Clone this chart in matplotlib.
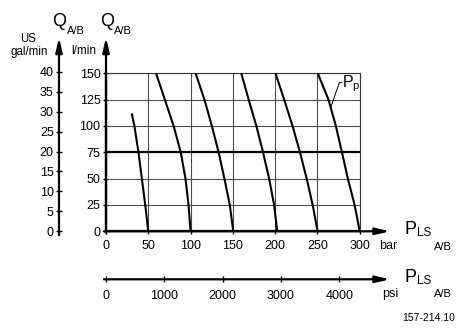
import matplotlib
matplotlib.use("Agg")
import matplotlib.pyplot as plt
import numpy as np

plt.rcParams['font.family'] = ['Liberation Sans', 'DejaVu Sans']

# ---- data ----
q_levels = [150, 125, 100, 75, 50, 25, 0]
curve1_bar = [30.4, 33.6, 38.4, 42.4, 46.4, 50.0]
curve1_q = [112, 100, 75, 50, 25, 0]
curve2_bar = [59.2, 69.6, 80.0, 88.4, 94.0, 97.6, 100.0]
curve3_bar = [106.0, 116.4, 125.2, 133.2, 140.0, 146.4, 150.5]
curve4_bar = [160.0, 168.7, 177.8, 185.7, 192.9, 198.8, 202.5]
curve5_bar = [200.4, 210.7, 220.6, 229.4, 237.3, 244.4, 250.2]
curve6_bar = [250.4, 263.1, 271.8, 279.0, 286.0, 294.0, 300.0]

bar_ticks = [0, 50, 100, 150, 200, 250, 300]
lmin_ticks = [0, 25, 50, 75, 100, 125, 150]
gal_ticks = [0, 5, 10, 15, 20, 25, 30, 35, 40]
psi_ticks = [0, 1000, 2000, 3000, 4000]

LPM_PER_GAL = 3.785
PSI_PER_BAR = 14.5038

W, H = 457, 328
fig = plt.figure(figsize=(W / 100, H / 100), dpi=100)

def fx(px):
    return px / W

def fy(py):
    return 1 - py / H

TICK_FS = 9

# main axes: x 0..300 -> px 106..359.7 ; y 0..150 -> py 231.3..73.3
x0, x1 = 106.0, 359.7
y0, y1 = 231.3, 73.3
ax = fig.add_axes([fx(x0), fy(y0), fx(x1) - fx(x0), (y0 - y1) / H])
ax.set_xlim(0, 300)
ax.set_ylim(0, 150)

ax.set_xticks(bar_ticks)
ax.set_yticks(lmin_ticks)
ax.grid(True, color='#4d4d4d', lw=0.8)
ax.set_axisbelow(True)
ax.axhline(75, color='black', lw=1.6, zorder=2)

for s in ['top', 'right']:
    ax.spines[s].set_linewidth(0.8)
    ax.spines[s].set_color('#333333')
for s in ['left', 'bottom']:
    ax.spines[s].set_linewidth(1.6)
    ax.spines[s].set_zorder(4)

ax.tick_params(axis='both', labelsize=TICK_FS, width=1.0, length=2.2, direction='out', color='black')
ax.tick_params(axis='x', pad=4.3)
ax.tick_params(axis='y', pad=1.8)

for xs, qs in [(curve1_bar, curve1_q), (curve2_bar, q_levels), (curve3_bar, q_levels),
               (curve4_bar, q_levels), (curve5_bar, q_levels), (curve6_bar, q_levels)]:
    ax.plot(xs, qs, color='black', lw=1.5, solid_capstyle='butt', zorder=3)

arrow_kw = dict(arrowstyle='-|>,head_length=0.85,head_width=0.2', lw=1.6, color='black',
                shrinkA=0, shrinkB=0)
xtip = (390 - x0) / (x1 - x0)
ytip_px = 37.5
ytip = (y0 - ytip_px) / (y0 - y1)
ax.annotate('', xy=(xtip, 0), xytext=(-0.008, 0), xycoords='axes fraction',
            arrowprops=arrow_kw, annotation_clip=False)
ax.annotate('', xy=(0, ytip), xytext=(0, -0.008), xycoords='axes fraction',
            arrowprops=arrow_kw, annotation_clip=False)

# US gal/min axis (same vertical scale as l/min, converted)
gax = fig.add_axes([fx(59), fy(y0), 0.0005, (y0 - ytip_px) / H])
gax.set_ylim(0, ytip * 150 / LPM_PER_GAL)
gax.set_yticks(gal_ticks)
gax.set_xticks([])
for s in gax.spines.values():
    s.set_visible(False)
gax.patch.set_visible(False)
gax.tick_params(axis='y', labelsize=TICK_FS, direction='inout', length=5, width=1.0, pad=1.3)
gax.annotate('', xy=(0, 1), xytext=(0, -0.02), xycoords='axes fraction',
             arrowprops=arrow_kw, annotation_clip=False)

# psi axis
psi_loc = (y0 - 279.3) / (y0 - y1)
pax = ax.secondary_xaxis(psi_loc, functions=(lambda b: b * PSI_PER_BAR, lambda p: p / PSI_PER_BAR))
pax.set_xticks(psi_ticks)
pax.tick_params(labelsize=TICK_FS, direction='inout', length=5, width=1.0, pad=5.0)
pax.spines['bottom'].set_visible(False)
ax.annotate('', xy=(xtip, psi_loc), xytext=(-0.008, psi_loc), xycoords='axes fraction',
            arrowprops=arrow_kw, annotation_clip=False)

# P_p leader
ax.plot([266.0, 275.9, 278.7], [118.3, 141.1, 141.1], color='black', lw=0.7, zorder=3)
ax.text(279.5, 137.3, 'P', fontsize=11.5, ha='left', va='baseline')
ax.text(291.0, 134.8, 'p', fontsize=8, ha='left', va='baseline')

# labels
def t(px, py, s, size, ha='left'):
    fig.text(fx(px), fy(py), s, fontsize=size, ha=ha, va='baseline')

t(52.5, 26.5, 'Q', 13)
t(66.5, 34, 'A/B', 8)
t(100, 26.5, 'Q', 13)
t(114, 34, 'A/B', 8)
t(28, 42.0, 'US', 8.3, ha='center')
t(29.5, 54.5, 'gal/min', 8.3, ha='center')
t(71, 54.0, 'l/min', 8.5)

t(379, 249.3, 'bar', 9)
t(404, 234.5, 'P', 13)
t(416.5, 236.5, 'LS', 8.5)
t(434, 249.5, 'A/B', 8)

t(382, 297.5, 'psi', 9)
t(404, 281.7, 'P', 13)
t(416.5, 283.7, 'LS', 8.5)
t(434, 296.7, 'A/B', 8)

t(455, 321, '157-214.10', 7.5, ha='right')

fig.savefig('out.png', dpi=100)
